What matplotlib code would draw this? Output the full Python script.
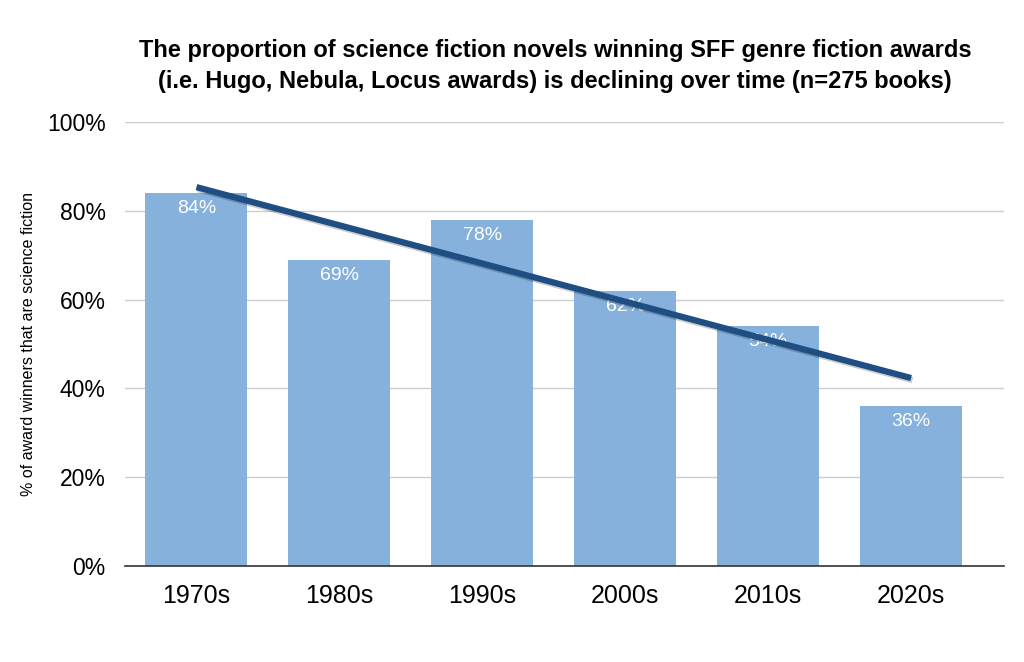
import matplotlib
matplotlib.use("Agg")
import matplotlib.pyplot as plt
import matplotlib.patheffects as pe
import numpy as np

categories = ["1970s", "1980s", "1990s", "2000s", "2010s", "2020s"]
values = [84, 69, 78, 62, 54, 36]
yticks = [0, 20, 40, 60, 80, 100]
title = ("The proportion of science fiction novels winning SFF genre fiction awards\n"
         "(i.e. Hugo, Nebula, Locus awards) is declining over time (n=275 books)")
ylabel = "% of award winners that are science fiction"

plt.rcParams['font.family'] = ['Liberation Sans', 'DejaVu Sans']

fig = plt.figure(figsize=(10.24, 6.62), dpi=100)
ax = fig.add_axes([125/1024, 1-566/662, 879/1024, 444/662])

x = np.arange(len(categories))
ax.bar(x, values, width=0.714, color="#85B1DC", zorder=2)
for xi, v in zip(x, values):
    ax.text(xi, v - 1.6, f"{v}%", ha="center", va="top", color="white", fontsize=14, zorder=4)

coef = np.polyfit(x, values, 1)
trend = np.polyval(coef, x[[0, -1]])
ax.plot(x[[0, -1]], trend, color="#1F4E82", lw=4.5, solid_capstyle="butt", zorder=5,
        path_effects=[pe.SimpleLineShadow(offset=(1, -1.5), alpha=0.2), pe.Normal()])

ax.set_xlim(-0.5, 5.65)
ax.set_ylim(0, 100)
ax.set_yticks(yticks)
ax.set_yticklabels([f"{t}%" for t in yticks], fontsize=16.5)
ax.set_xticks(x)
ax.set_xticklabels(categories, fontsize=18)
ax.tick_params(axis="both", length=0)
ax.tick_params(axis="y", pad=14)
ax.tick_params(axis="x", pad=13)
ax.yaxis.grid(True, color="#CCCCCC", lw=1, zorder=0)
ax.set_axisbelow(True)
for s in ["top", "right", "left"]:
    ax.spines[s].set_visible(False)
ax.spines["bottom"].set_color("#333333")
ax.spines["bottom"].set_linewidth(1.2)
ax.spines["bottom"].set_zorder(6)
ax.set_ylabel(ylabel, fontsize=11.5)
ax.yaxis.set_label_coords(-(125 - 36) / 879, 0.5)

fig.text(555/1024, 1-66/662, title, ha="center", va="center", fontsize=17,
         fontweight="bold", linespacing=1.45)

fig.savefig("out.png", dpi=100)
